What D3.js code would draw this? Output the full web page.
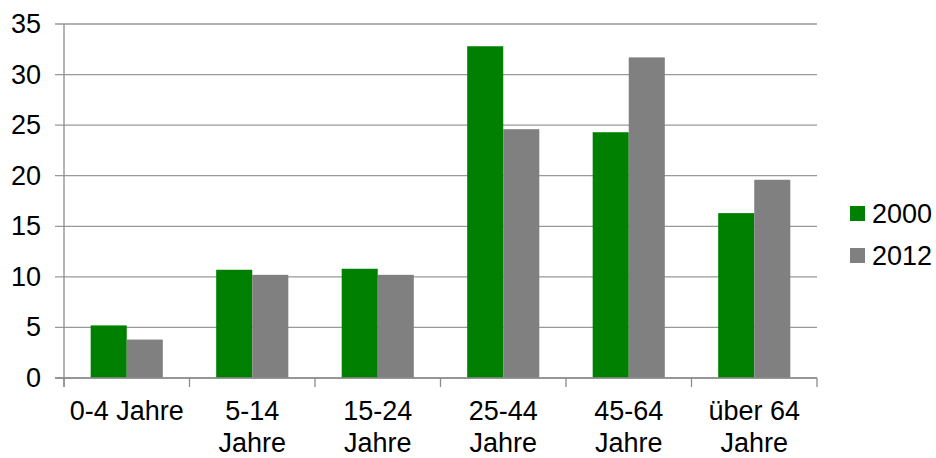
<!DOCTYPE html>
<html>
<head>
<meta charset="utf-8">
<script src="https://cdn.jsdelivr.net/npm/d3@7"></script>
<style>
  html, body { margin: 0; padding: 0; background: #fff; }
  svg { display: block; font-family: "Liberation Sans", Arial, sans-serif; }
</style>
</head>
<body>
<svg id="chart" width="936" height="458"></svg>
<script>
// Age groups (two-line labels split on "\n")
const categories = ["0-4 Jahre", "5-14\nJahre", "15-24\nJahre", "25-44\nJahre", "45-64\nJahre", "über 64\nJahre"];
const seriesNames = ["2000", "2012"];
const values2000 = [5.2, 10.7, 10.8, 32.8, 24.3, 16.3];
const values2012 = [3.8, 10.2, 10.2, 24.6, 31.7, 19.6];
const yTicks = [0, 5, 10, 15, 20, 25, 30, 35];
const colors = ["#008000", "#808080"];

const svg = d3.select("#chart");
const plotLeft = 64, plotRight = 817, plotTop = 24, plotBottom = 378;
const fontSize = 27;

const x0 = d3.scaleBand().domain(categories).range([plotLeft, plotRight]).padding(0);
const x1 = d3.scaleBand().domain(seriesNames).range([0, x0.bandwidth()])
  .paddingInner(0).paddingOuter(0.74);
const y = d3.scaleLinear().domain([0, 35]).range([plotBottom, plotTop]);

// Horizontal gridlines with left tick stubs
svg.append("g").selectAll("line").data(yTicks).join("line")
  .attr("x1", plotLeft - 9).attr("x2", plotRight)
  .attr("y1", d => y(d)).attr("y2", d => y(d))
  .attr("stroke", "#999").attr("stroke-width", 1.3);

// Y tick labels
svg.append("g").selectAll("text").data(yTicks).join("text")
  .attr("x", 41).attr("y", d => y(d))
  .attr("text-anchor", "end").attr("dominant-baseline", "central")
  .attr("font-size", fontSize).attr("fill", "#000")
  .text(d => d);

// Bars
const rows = categories.map((c, i) => ({ cat: c, vals: [values2000[i], values2012[i]] }));
const groups = svg.append("g").selectAll("g").data(rows).join("g")
  .attr("transform", d => `translate(${x0(d.cat)},0)`);
groups.selectAll("rect")
  .data(d => d.vals.map((v, j) => ({ key: seriesNames[j], v, j })))
  .join("rect")
  .attr("x", d => x1(d.key))
  .attr("width", x1.bandwidth())
  .attr("y", d => y(d.v))
  .attr("height", d => y(0) - y(d.v))
  .attr("fill", d => colors[d.j]);

// Axis lines
svg.append("line").attr("x1", plotLeft).attr("x2", plotLeft).attr("y1", plotTop).attr("y2", plotBottom + 9)
  .attr("stroke", "#8c8c8c").attr("stroke-width", 1.3);
svg.append("line").attr("x1", plotLeft - 9).attr("x2", plotRight).attr("y1", plotBottom).attr("y2", plotBottom)
  .attr("stroke", "#8c8c8c").attr("stroke-width", 1.3);

// X tick marks at band boundaries
const boundaries = categories.map(c => x0(c)).concat([plotRight]);
svg.append("g").selectAll("line").data(boundaries).join("line")
  .attr("x1", d => d).attr("x2", d => d)
  .attr("y1", plotBottom).attr("y2", plotBottom + 9)
  .attr("stroke", "#8c8c8c").attr("stroke-width", 1.3);

// X category labels
const xl = svg.append("g").selectAll("text").data(categories).join("text")
  .attr("x", d => x0(d) + x0.bandwidth() / 2)
  .attr("y", 420)
  .attr("text-anchor", "middle")
  .attr("font-size", fontSize).attr("fill", "#000");
xl.selectAll("tspan").data(d => d.split("\n")).join("tspan")
  .attr("x", function () { return d3.select(this.parentNode).attr("x"); })
  .attr("dy", (d, i) => i === 0 ? 0 : 32)
  .text(d => d);

// Legend
const legend = svg.append("g").selectAll("g").data(seriesNames).join("g")
  .attr("transform", (d, i) => `translate(850,${206 + i * 42})`);
legend.append("rect").attr("width", 15).attr("height", 15)
  .attr("fill", (d, i) => colors[i]);
legend.append("text").attr("x", 22).attr("y", 7.5)
  .attr("dominant-baseline", "central")
  .attr("font-size", fontSize).attr("fill", "#000")
  .text(d => d);
</script>
</body>
</html>
